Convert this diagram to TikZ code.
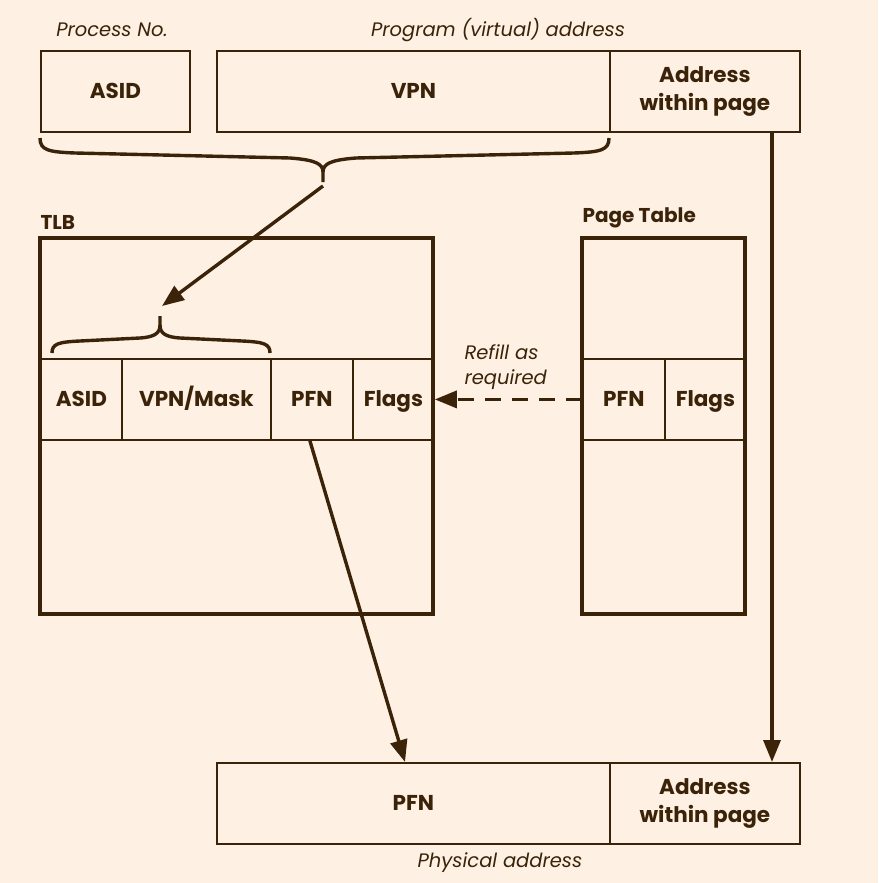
\documentclass[tikz,border=0pt]{standalone}
\usepackage{fontspec}
\setmainfont{Poppins}
\usetikzlibrary{arrows.meta}

\definecolor{paper}{HTML}{FEF1E3}
\definecolor{ink}{HTML}{3B2309}

\begin{document}
\begin{tikzpicture}[x=1pt, y=-1pt, line join=miter,
    cell/.style={draw=ink, line width=1.8pt, text=ink, font=\fontsize{21.5}{28}\selectfont\bfseries,
      inner sep=0pt, align=center, minimum height=81pt},
    onecell/.style={cell, text height=16pt, text depth=2pt},
    twocell/.style={cell, yshift=-2pt},
    frame/.style={draw=ink, line width=3.6pt},
    caption/.style={text=ink, font=\fontsize{19.5}{25}\selectfont\itshape},
    title/.style={text=ink, font=\fontsize{20}{24}\selectfont\bfseries},
    bracepath/.style={draw=ink, line width=3.4pt},
    link/.style={draw=ink, line width=3.4pt, -{Triangle[length=22pt,width=17pt]}}]

% background
\fill[paper] (0,0) rectangle (878,883);

% Virtual address
\node[caption] (procno) at (112,30) {Process No.};
\node[caption] (progaddr) at (498,30) {Program (virtual) address};
\node[onecell, minimum width=149pt, anchor=north west] (vasid) at (40,50) {ASID};
\node[onecell, minimum width=393pt, anchor=north west] (vvpn) at (216,50) {VPN};
\node[cell, minimum width=190pt, anchor=north west] (voff) at (609,50) {Address\\within page};

% Brace under ASID + VPN
\draw[bracepath] (40,138) .. controls (40,150) and (48,152) .. (75,153)
  -- (290,158) .. controls (316,160) and (323,164) .. (323,172) -- (323,182);
\draw[bracepath] (609,138) .. controls (609,150) and (601,152) .. (574,153)
  -- (356,158) .. controls (330,160) and (323,164) .. (323,172);
\coordinate (vtip) at (323,186);

% TLB
\node[title, anchor=south west] (tlbtitle) at (37,233) {TLB};
\draw[frame] (40,238) rectangle (433,614);
\node[onecell, minimum width=81pt, anchor=north west] (tasid) at (40,358) {ASID};
\node[onecell, minimum width=149pt, anchor=north west] (tvpn) at (121,358) {VPN/Mask};
\node[onecell, minimum width=82pt, anchor=north west] (tpfn) at (270,358) {PFN};
\node[onecell, minimum width=81pt, anchor=north west] (tflags) at (352,358) {Flags};
\draw[frame] (40,238) rectangle (433,614);

% Brace over ASID + VPN/Mask
\draw[bracepath] (52,353) .. controls (52,344) and (58,342) .. (80,341)
  -- (140,338) .. controls (155,337) and (160,333) .. (160,325) -- (160,316);
\draw[bracepath] (270,353) .. controls (270,344) and (264,342) .. (242,341)
  -- (180,338) .. controls (165,337) and (160,333) .. (160,325);
\coordinate (ttip) at (162,306);
\draw[link] (vtip) -- (ttip);

% Page table
\node[title, anchor=south west] (pttitle) at (579,232) {Page Table};
\draw[frame] (582,238) rectangle (745,614);
\node[onecell, minimum width=82pt, anchor=north west] (ppfn) at (582,358) {PFN};
\node[onecell, minimum width=81pt, anchor=north west] (pflags) at (664,358) {Flags};
\draw[frame] (582,238) rectangle (745,614);

% Refill
\draw[link, dash pattern=on 16pt off 11pt] (ppfn.west) -- (tflags.east);
\node[caption, align=left, anchor=west] (refill) at (461,367) {Refill as\\required};

% Physical address
\node[onecell, minimum width=393pt, anchor=north west] (ppn) at (216,762) {PFN};
\node[cell, minimum width=190pt, anchor=north west] (poff) at (609,762) {Address\\within page};
\node[caption] (physaddr) at (500,863) {Physical address};

\draw[link] (tpfn.south) ++(-2,0) coordinate (tstart) (tstart) -- (ppn.north -| 405,0);
\draw[link] (voff.south -| 772,0) -- (poff.north -| 772,0);

\end{tikzpicture}
\end{document}
